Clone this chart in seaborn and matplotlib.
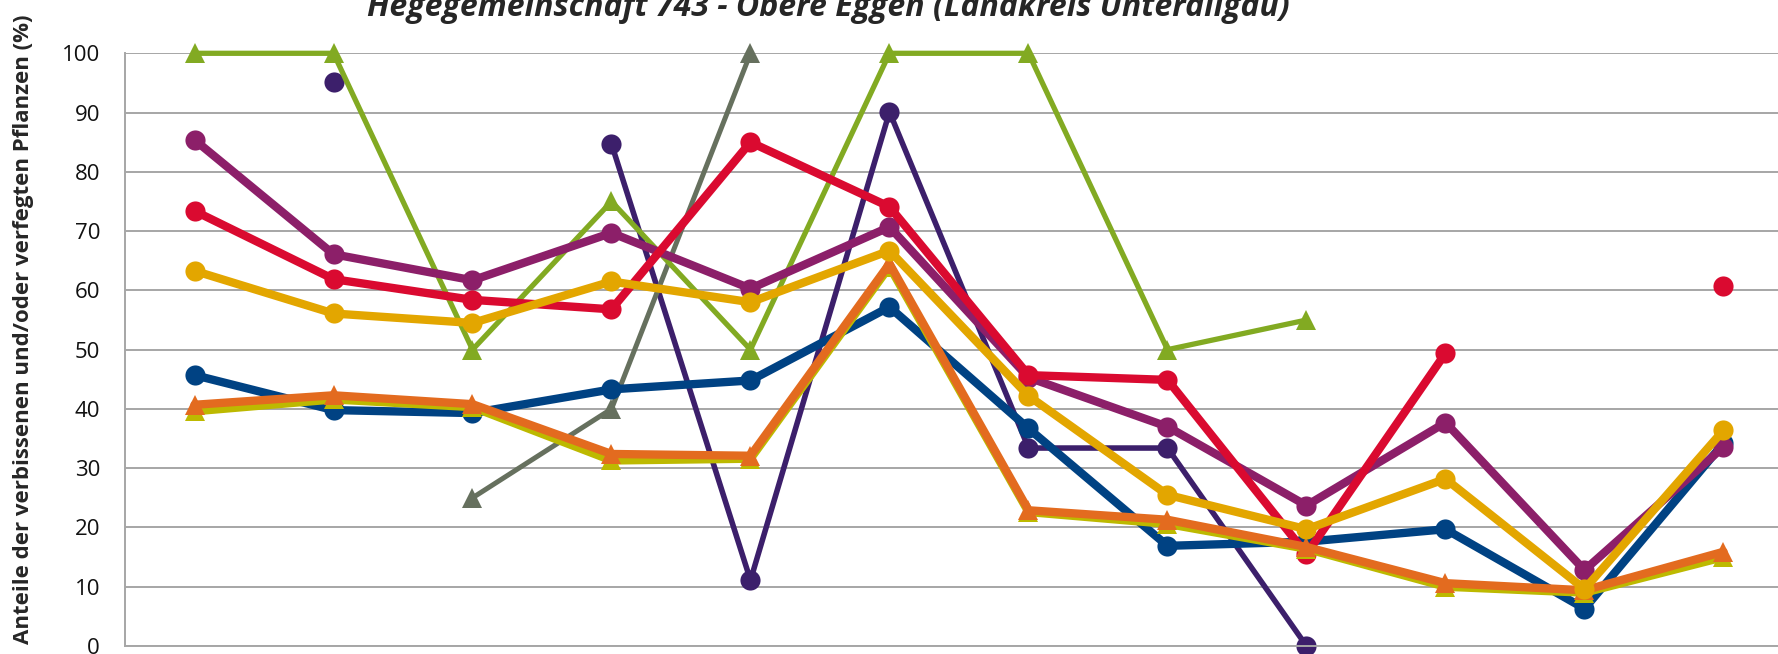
import numpy as np
import pandas as pd
import matplotlib
matplotlib.use("Agg")
import matplotlib.pyplot as plt
import seaborn as sns

nan = np.nan

# Aufnahmen (x labels are cut off in the reference, only positions)
aufnahme = np.arange(12)

# Anteile verbissen / verfegt (%) per series
blau = [45.7, 39.8, 39.3, 43.3, 44.8, 57.2, 36.7, 16.9, 17.6, 19.7, 6.3, 34.2]
rot = [73.4, 61.9, 58.4, 56.8, 85.0, 74.1, 45.7, 44.9, 15.5, 49.4, nan, 60.8]
violett = [85.4, 66.1, 61.7, 69.7, 60.3, 70.7, 45.3, 37.0, 23.7, 37.7, 12.8, 33.6]
gelb = [63.3, 56.1, 54.5, 61.5, 58.0, 66.7, 42.2, 25.5, 19.7, 28.2, 9.6, 36.4]
dunkelviolett = [nan, 95.1, nan, 84.7, 11.1, 90.1, 33.4, 33.4, 0.0, nan, nan, nan]
gruen = [100, 100, 50, 75, 50, 100, 100, 50, 55, nan, nan, nan]
grau = [nan, nan, 25, 40, 100, nan, nan, nan, nan, nan, nan, nan]
gelbgruen = [39.6, 41.6, 40.3, 31.3, 31.6, 64.0, 22.6, 20.6, 16.4, 10.0, 9.0, 15.0]
orange = [40.7, 42.3, 40.8, 32.4, 32.1, 64.5, 22.9, 21.3, 16.7, 10.6, 9.4, 15.9]

titel = "Hegegemeinschaft 743 - Obere Eggen (Landkreis Unterallgäu)"
ylabel = "Anteile der verbissenen und/oder verfegten Pflanzen (%)"

sns.set_style("white")
plt.rcParams["font.family"] = ["Open Sans", "DejaVu Sans"]

W, H = 1778, 654
fig = plt.figure(figsize=(W / 100, H / 100), dpi=100)
ax = fig.add_axes([125 / W, 8 / H, (1793 - 125) / W, (646 - 53.3) / H])


def draw(values, color, marker, lw, ms):
    y = np.array(values, dtype=float)
    ok = ~np.isnan(y)
    # split into contiguous runs so missing values break the line
    runs, cur = [], []
    for i in range(len(y)):
        if ok[i]:
            cur.append(i)
        elif cur:
            runs.append(cur)
            cur = []
    if cur:
        runs.append(cur)
    for r in runs:
        df = pd.DataFrame({"x": aufnahme[r], "y": y[r]})
        sns.lineplot(data=df, x="x", y="y", ax=ax, color=color, lw=lw,
                     marker=marker, markersize=ms, markeredgecolor=color,
                     markeredgewidth=0, clip_on=False)


# series, drawn back to front
draw(dunkelviolett, "#3C1F6B", "o", 4.0, 14.5)
draw(grau, "#66705E", "^", 3.6, 14.5)
draw(gruen, "#82AA22", "^", 3.8, 14.5)
draw(blau, "#004283", "o", 6, 14.5)
draw(violett, "#8C1F69", "o", 6, 14.5)
draw(rot, "#DA0A30", "o", 6, 14.5)
draw(gelbgruen, "#BDB900", "^", 6, 14.5)
draw(orange, "#E36B1F", "^", 6, 14.5)
draw(gelb, "#E3A600", "o", 6, 14.5)

ax.set_xlim(-0.5, 11.5)
ax.set_ylim(0, 100)
ax.set_yticks(range(0, 101, 10))
ax.set_xticks(np.arange(-0.5, 12, 1))
ax.set_xticklabels([])
ax.set_xlabel("")
ax.set_ylabel("")
ax.grid(axis="y", color="#A6A6A6", lw=1.4)
ax.set_axisbelow(True)
for s in ["top", "right"]:
    ax.spines[s].set_visible(False)
for s in ["left", "bottom"]:
    ax.spines[s].set_color("#A6A6A6")
    ax.spines[s].set_linewidth(1.4)
ax.tick_params(axis="y", length=6, width=1.4, color="#A6A6A6", pad=12,
               labelsize=16, labelcolor="#111111")
ax.tick_params(axis="x", length=8, width=1.4, color="#A6A6A6", direction="out")

fig.text(828 / W, 1 - 8 / H, titel, ha="center", va="center", fontsize=23,
         fontweight="bold", fontstyle="italic")
fig.text(24 / W, 1 - 329 / H, ylabel, ha="center", va="center", rotation=90,
         fontsize=16, fontweight="bold")

fig.savefig("out.png", dpi=100)
